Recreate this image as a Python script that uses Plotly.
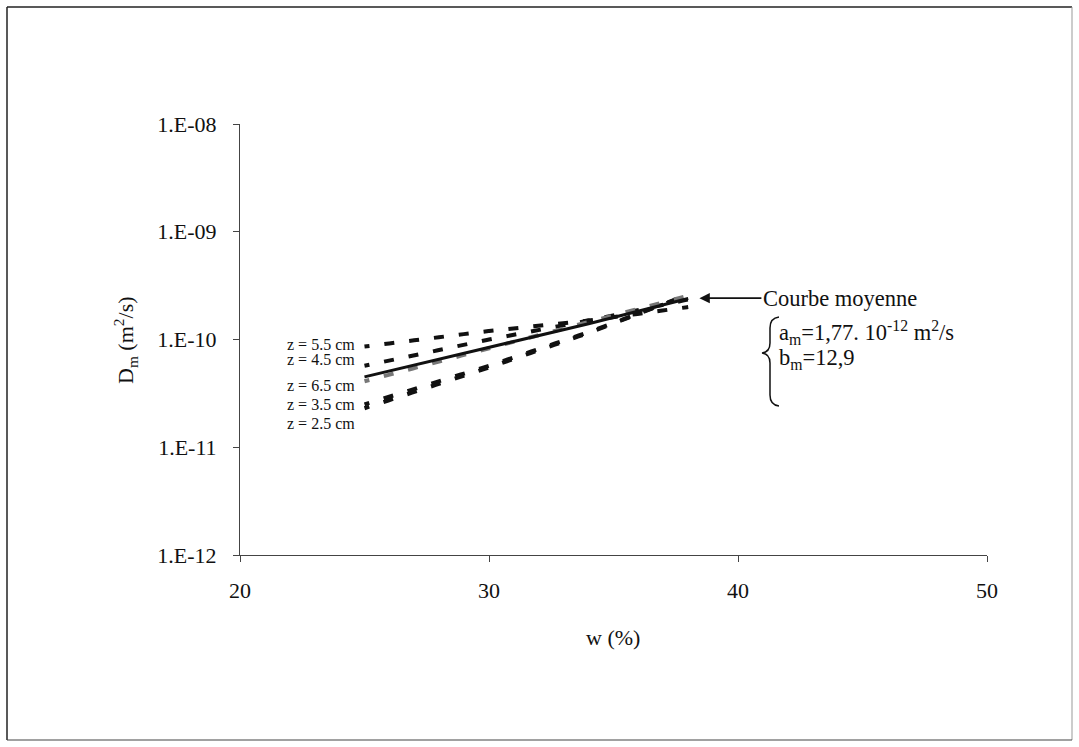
import math
import plotly.graph_objects as go

# ---------------- data ----------------
w_points = [25, 30, 34, 38]
d_z55 = [8.6e-11, 1.2e-10, 1.5e-10, 2.0e-10]
d_z45 = [5.7e-11, 1.0e-10, 1.5e-10, 2.35e-10]
d_z65 = [4.1e-11, 8.3e-11, 1.45e-10, 2.55e-10]
d_z35 = [2.5e-11, 5.7e-11, 1.17e-10, 2.6e-10]
d_z25 = [2.3e-11, 5.5e-11, 1.15e-10, 2.6e-10]
d_mean = [4.5e-11, 8.5e-11, 1.4e-10, 2.4e-10]

series_labels = ["z = 5.5 cm", "z = 4.5 cm", "z = 6.5 cm", "z = 3.5 cm", "z = 2.5 cm"]
label_y = [9.0e-11, 6.5e-11, 3.75e-11, 2.5e-11, 1.67e-11]

y_tickvals = [1e-12, 1e-11, 1e-10, 1e-9, 1e-8]
y_ticktext = ["1.E-12", "1.E-11", "1.E-10", "1.E-09", "1.E-08"]
x_tickvals = [20, 30, 40, 50]

FONT = "Liberation Serif, Times New Roman, serif"
W, H = 1079, 747
L, R, T, B = 240, 92, 124, 192
PW, PH = W - L - R, H - T - B


def px(xp):
    return (xp - L) / PW


def py(yp):
    return (H - B - yp) / PH


fig = go.Figure()
DASH = "5px,15px,5px,0px"
for vals, col in [(d_z55, "#111"), (d_z45, "#111"), (d_z35, "#111"), (d_z25, "#111"), (d_z65, "#777")]:
    fig.add_trace(go.Scatter(x=w_points, y=vals, mode="lines",
                             line=dict(color=col, width=4, dash=DASH),
                             showlegend=False, hoverinfo="skip"))
fig.add_trace(go.Scatter(x=w_points, y=d_mean, mode="lines",
                         line=dict(color="#111", width=3),
                         showlegend=False, hoverinfo="skip"))

annotations = []
for lab, yv in zip(series_labels, label_y):
    annotations.append(dict(x=px(285), xref="paper", y=math.log10(yv), yref="y",
                            text=lab, showarrow=False, xanchor="left", yanchor="middle",
                            font=dict(family=FONT, size=16, color="#111")))

# arrow + "Courbe moyenne"
annotations.append(dict(x=38.45, y=math.log10(2.42e-10), xref="x", yref="y",
                        text="Courbe moyenne", showarrow=True, ax=62, ay=0,
                        xanchor="left", yanchor="middle",
                        arrowhead=2, arrowsize=1.3, arrowwidth=1.6, arrowcolor="#111",
                        font=dict(family=FONT, size=22.5, color="#111")))
annotations.append(dict(x=px(777), y=py(332), xref="paper", yref="paper",
                        text="a<sub>m</sub>=1,77. 10<sup>-12</sup> m<sup>2</sup>/s",
                        showarrow=False, xanchor="left", yanchor="middle",
                        font=dict(family=FONT, size=22.5, color="#111")))
annotations.append(dict(x=px(777), y=py(359), xref="paper", yref="paper",
                        text="b<sub>m</sub>=12,9",
                        showarrow=False, xanchor="left", yanchor="middle",
                        font=dict(family=FONT, size=22.5, color="#111")))
# axis titles
annotations.append(dict(x=px(125), y=py(340), xref="paper", yref="paper",
                        text="D<sub>m</sub> (m<sup>2</sup>/s)", textangle=-90,
                        showarrow=False, xanchor="center", yanchor="middle",
                        font=dict(family=FONT, size=22, color="#111")))
annotations.append(dict(x=px(613), y=py(637), xref="paper", yref="paper",
                        text="w (%)", showarrow=False, xanchor="center", yanchor="middle",
                        font=dict(family=FONT, size=22, color="#111")))


def P(xp, yp):
    return f"{px(xp):.5f},{py(yp):.5f}"


brace = ("M " + P(779, 317) + " Q " + P(770, 318) + " " + P(770, 328) +
         " L " + P(770, 343) + " Q " + P(770, 352) + " " + P(762, 353) +
         " Q " + P(770, 354) + " " + P(770, 363) +
         " L " + P(770, 395) + " Q " + P(770, 405) + " " + P(779, 406))

shapes = [
    dict(type="path", path=brace, xref="paper", yref="paper",
         line=dict(color="#111", width=1.5)),
    # outer frame
    dict(type="line", xref="paper", yref="paper", x0=px(7), x1=px(1072), y0=py(7), y1=py(7),
         line=dict(color="#222", width=1.5)),
    dict(type="line", xref="paper", yref="paper", x0=px(7), x1=px(7), y0=py(7), y1=py(740),
         line=dict(color="#222", width=1.5)),
    dict(type="line", xref="paper", yref="paper", x0=px(1072), x1=px(1072), y0=py(7), y1=py(740),
         line=dict(color="#999", width=1)),
    dict(type="line", xref="paper", yref="paper", x0=px(7), x1=px(1072), y0=py(740), y1=py(740),
         line=dict(color="#444", width=1.2)),
]

fig.update_layout(
    width=W, height=H,
    margin=dict(l=L, r=R, t=T, b=B, pad=0),
    paper_bgcolor="white", plot_bgcolor="white",
    font=dict(family=FONT, size=22, color="#111"),
    showlegend=False,
    annotations=annotations,
    shapes=shapes,
    xaxis=dict(range=[20, 50], tickvals=x_tickvals, ticks="outside", ticklen=6,
               tickcolor="#444", showline=True, linecolor="#444", linewidth=1,
               showgrid=False, zeroline=False, ticklabelstandoff=10,
               tickfont=dict(family=FONT, size=22, color="#111")),
    yaxis=dict(type="log", range=[-12, -8], tickvals=y_tickvals, ticktext=y_ticktext,
               ticks="outside", ticklen=6, tickcolor="#444", showline=True,
               linecolor="#444", linewidth=1, showgrid=False, zeroline=False,
               ticklabelstandoff=12,
               tickfont=dict(family=FONT, size=22, color="#111")),
)

fig.write_html("out.html", config={"displayModeBar": False},
               post_script="document.body.style.margin='0';document.body.style.overflow='hidden';")
